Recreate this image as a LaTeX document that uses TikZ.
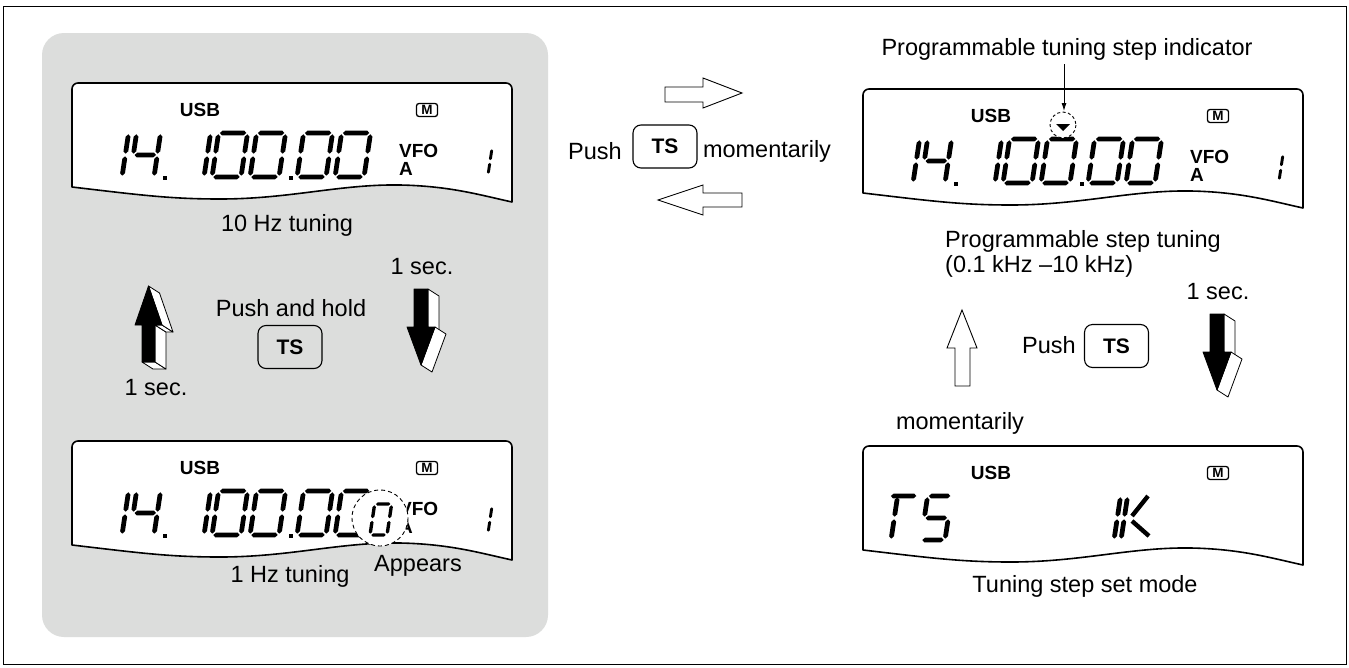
\documentclass[tikz,border=0pt]{standalone}
\usepackage{fontspec}
\setmainfont{Liberation Sans}
\usetikzlibrary{arrows.meta}
\definecolor{panelgray}{HTML}{DCDDDC}
\def\dg{1.3}
\newcommand\hseg[3]{\fill (#1,#3) -- ({#1+\dt/2},{#3+\dt/2}) -- ({#2-\dt/2},{#3+\dt/2}) -- (#2,#3) -- ({#2-\dt/2},{#3-\dt/2}) -- ({#1+\dt/2},{#3-\dt/2}) -- cycle;}
\newcommand\vseg[3]{\fill (#1,#2) -- ({#1+\dt/2},{#2+\dt/2}) -- ({#1+\dt/2},{#3-\dt/2}) -- (#1,#3) -- ({#1-\dt/2},{#3-\dt/2}) -- ({#1-\dt/2},{#2+\dt/2}) -- cycle;}
\newcommand\segA{\hseg{\dg}{\dW-\dg}{\dH}}
\newcommand\segB{\vseg{\dW}{\dH/2+\dg}{\dH-\dg}}
\newcommand\segC{\vseg{\dW}{\dg}{\dH/2-\dg}}
\newcommand\segD{\hseg{\dg}{\dW-\dg}{0}}
\newcommand\segE{\vseg{0}{\dg}{\dH/2-\dg}}
\newcommand\segF{\vseg{0}{\dH/2+\dg}{\dH-\dg}}
\newcommand\segG{\hseg{\dg}{\dW-\dg}{\dH/2}}
\newcommand\zero{\segA\segB\segC\segD\segE\segF}
\newcommand\lcddigs[5]{\begin{scope}[shift={(#3,#4)},xslant=0.15,yscale=-1]\def\dW{#1}\def\dH{#2}\pgfmathsetmacro\dt{#2/9.2}#5\end{scope}}
\newcommand\lcddig[4][29]{\lcddigs{#1}{44}{#2}{#3}{#4}}
\tikzset{
 txt/.style={inner sep=0pt, font=\fontsize{23.5}{28}\selectfont},
 lcdlbl/.style={inner sep=0pt, font=\fontsize{19}{22}\selectfont\bfseries},
 tsbtn/.style={draw, line width=1.1pt, rounded corners=8pt, minimum width=64pt, minimum height=43pt, inner sep=0pt, font=\fontsize{21}{24}\selectfont\bfseries},
 hollow/.style={draw, fill=white, line width=0.9pt, line join=miter},
 side/.style={draw, fill=white, line width=0.8pt, line join=round},
 front/.style={fill=black, draw=black, line width=0.8pt, line join=round},
 lcdline/.style={draw, fill=white, line width=1.6pt, line join=round},
 mbox/.style={draw, line width=1.3pt, rounded corners=2.5pt, minimum width=21pt, minimum height=13pt, inner sep=0pt, font=\fontsize{13.5}{15}\selectfont\bfseries},
 dcirc/.style={draw, fill=white, line width=0.9pt, dash pattern=on 4pt off 3pt},
}
\newcommand\lcdbox[3]{\begin{scope}[shift={(#2,#3)}]
 \filldraw[lcdline] (72,187) -- (72,89) arc(180:270:6) -- (506,83) arc(270:360:6) -- (512,202) .. controls (480,195) and (450,186) .. (400,185) .. controls (340,184) and (290,199) .. (220,199) .. controls (170,199) and (140,195) .. (72,187) -- cycle;
 \node[lcdlbl] (#1usb) at (200,110) {USB};
 \node[mbox] (#1m) at (427,110) {M};
\end{scope}}
\newcommand\freqdigits[3]{\begin{scope}[shift={(#2,#3)}]
 \lcddig{93}{177}{\segB\segC}
 \lcddig[24]{130}{177}{\segF\segG\segB\segC}
 \fill (163,176) rectangle (167,180);
 \lcddig{175}{177}{\segB\segC}
 \lcddig{212}{177}{\zero}
 \lcddig{250}{177}{\zero}
 \fill (289,176) rectangle (293,180);
 \lcddig{297}{177}{\zero}
 \lcddig{335}{177}{\zero}
 \node[lcdlbl,anchor=west] (#1vfo) at (399,151) {VFO};
 \node[lcdlbl,anchor=west] (#1a) at (399,169) {A};
 \lcddigs{0}{27}{488}{175}{\segB\segC}
\end{scope}}
\newcommand\downarrowthreed[2]{\begin{scope}[shift={(#1,#2)}]
 \filldraw[side] (428,289) -- (439,296) -- (439,334) -- (428,327) -- cycle;
 \filldraw[side] (435,327) -- (446,334) -- (432,372) -- (421,365) -- cycle;
 \filldraw[front] (414,289) -- (428,289) -- (428,327) -- (435,327) -- (421,365) -- (407,327) -- (414,327) -- cycle;
\end{scope}}
\begin{document}
\begin{tikzpicture}[x=1pt,y=-1pt]
\useasboundingbox (0,0) rectangle (1349,667);
\fill[white] (0,0) rectangle (1349,667);
\draw[line width=1pt] (3,6) rectangle (1346,664);
% gray panel
\fill[panelgray, rounded corners=22pt] (42,33) rectangle (548,637);

% ---- top-left display
\lcdbox{tl}{0}{0}
\freqdigits{tl}{0}{0}
\node[txt] (lbl10) at (287,225) {10 Hz tuning};

% ---- bottom-left display
\lcdbox{bl}{0}{358}
\freqdigits{bl}{0}{358}
\filldraw[dcirc] (380,518) circle[radius=28];
\lcddigs{17}{31}{370}{535}{\zero}
\node[txt] (lbl1) at (290,576) {1 Hz tuning};
\node[txt] (appears) at (418,566) {Appears};

% ---- left panel middle
\node[txt] (pah) at (291,308) {Push and hold};
\node[tsbtn] (ts1) at (290,347) {TS};
\node[txt] (sec1) at (422,267) {1 sec.};
\node[txt] (sec2) at (156,388) {1 sec.};
% up 3D arrow
\filldraw[side] (142,362) -- (155,362) -- (166,369) -- (153,369) -- cycle;
\filldraw[side] (155,325) -- (155,362) -- (166,369) -- (166,332) -- cycle;
\filldraw[side] (155,325) -- (162,325) -- (173,332) -- (166,332) -- cycle;
\filldraw[side] (148.5,286) -- (162,325) -- (173,332) -- (159.5,293) -- cycle;
\filldraw[front] (148.5,286) -- (162,325) -- (155,325) -- (155,362) -- (142,362) -- (142,325) -- (135,325) -- cycle;
% down 3D arrow
\downarrowthreed{0}{0}

% ---- middle
\filldraw[hollow] (665,87) -- (703,87) -- (703,78) -- (742,93) -- (703,108) -- (703,102) -- (665,102) -- cycle;
\filldraw[hollow] (742,193) -- (703,193) -- (703,185) -- (658,200) -- (703,215) -- (703,207) -- (742,207) -- cycle;
\node[txt] (push2) at (595,151) {Push};
\node[tsbtn] (ts2) at (665,146.5) {TS};
\node[txt] (mom1) at (767,151) {momentarily};

% ---- top-right display
\lcdbox{tr}{791}{6}
\freqdigits{tr}{791}{6}
\filldraw[dcirc, dash pattern=on 3pt off 2.5pt] (1063,125) circle[radius=13];
\fill (1056,124) -- (1070,124) -- (1063,131) -- cycle;
\node[txt] (ptsi) at (1067,49) {Programmable tuning step indicator};
\coordinate (indc) at (1064,111);
\draw[-{Latex[length=8pt,width=5pt]}, line width=0.9pt, shorten <=4pt] (ptsi.south -| indc) -- (indc);
\node[txt, anchor=west] (pst) at (945,241) {Programmable step tuning};
\node[txt, anchor=west] (range) at (945,266) {(0.1 kHz –10 kHz)};

% ---- right middle
\node[txt] (sec3) at (1218,292) {1 sec.};
\downarrowthreed{796}{25}
\filldraw[hollow] (955,386) -- (955,348) -- (947,348) -- (962,310) -- (977,348) -- (970,348) -- (970,386) -- cycle;
\node[txt] (push3) at (1049,345) {Push};
\node[tsbtn] (ts3) at (1116.5,346) {TS};
\node[txt] (mom2) at (960,423) {momentarily};

% ---- bottom-right display
\lcdbox{br}{791}{363}
\lcddigs{28}{44}{883}{540}{\segA\vseg{8}{\dg}{\dH/2-\dg}\vseg{8}{\dH/2+\dg}{\dH-\dg}}
\lcddigs{24}{44}{921}{540}{\segA\segF\segG\segC\segD}
\lcddig{1085}{540}{\segB\segC}
\lcddig{1121}{540}{\segE\segF}
\draw[line width=4.4pt] (1132,516) -- (1148,496);
\draw[line width=4.4pt] (1132,521) -- (1149,536);
\node[txt] (tssm) at (1085,586) {Tuning step set mode};
\end{tikzpicture}
\end{document}
